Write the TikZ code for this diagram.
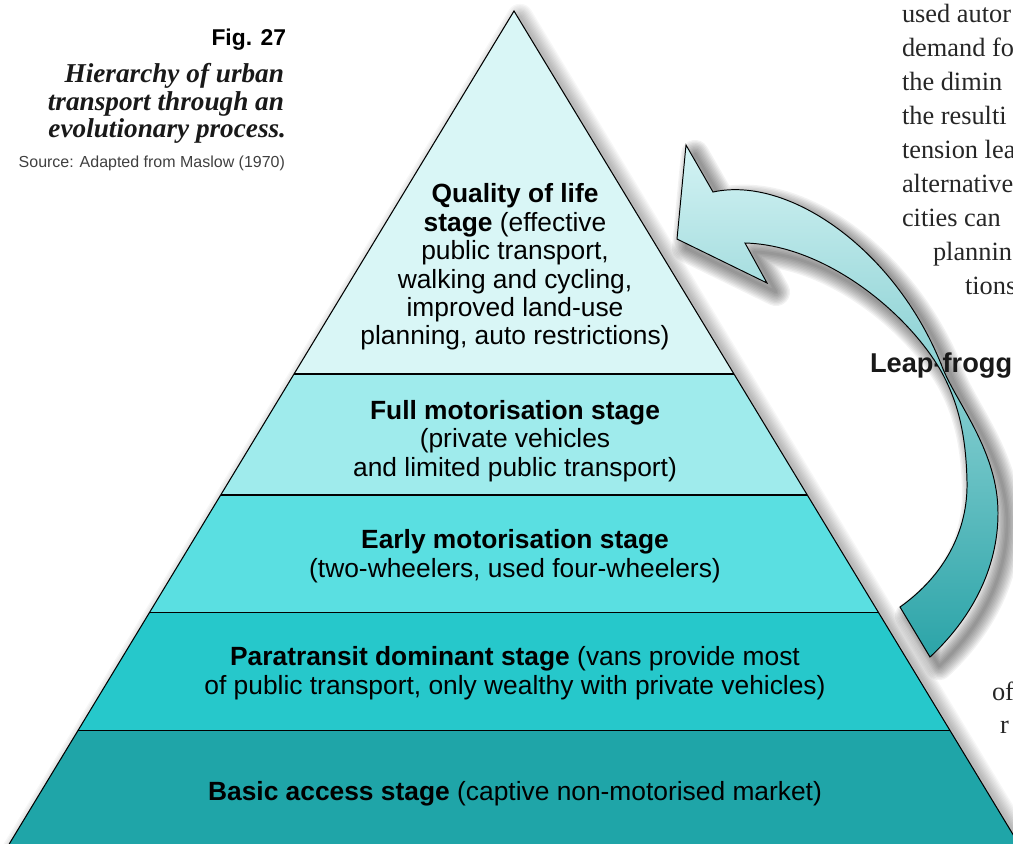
\documentclass[tikz,border=0pt]{standalone}
\usepackage{fontspec}
\setmainfont{Liberation Serif}
\setsansfont{Liberation Sans}
\usetikzlibrary{calc}

\definecolor{tierOne}{HTML}{D9F6F6}
\definecolor{tierTwo}{HTML}{9FEBEC}
\definecolor{tierThree}{HTML}{5ADFE1}
\definecolor{tierFour}{HTML}{26C8CB}
\definecolor{tierFive}{HTML}{1FA5A8}
\definecolor{leapTop}{HTML}{D4F3F4}
\definecolor{leapMid}{HTML}{A3E2E3}
\definecolor{leapBottom}{HTML}{2BA4A8}

\begin{document}
\begin{tikzpicture}[
        % one unit is one pixel of the page, y runs downwards
        x=0.02cm,
        y=-0.02cm,
        every node/.style={inner sep=0pt, outer sep=0pt},
        stageText/.style={font=\sffamily\fontsize{15}{16.2}\selectfont, align=center, text=black},
        bodyText/.style={font=\fontsize{15}{19}\selectfont, anchor=base west, text=black!85},
        captionText/.style={font=\bfseries\itshape\fontsize{15.5}{16}\selectfont, anchor=base east, text=black!90},
        edgeLine/.style={black, line width=0.6pt, line join=miter},
        shadowStroke/.style={black, opacity=0.03, line join=round},
        leapArrow/.style={draw=black, line width=0.55pt, top color=leapTop, middle color=leapMid, bottom color=leapBottom}
    ]
        % Frame of the page
        \useasboundingbox (0,0) rectangle (1013,843);
        \clip (0,0) rectangle (1013,843);

        % Pyramid corners
        \coordinate (apex) at (514,11);
        \coordinate (baseLeft) at (8,846);
        \coordinate (baseRight) at (1020,846);

        % Tier boundaries on both edges
        \foreach \i/\t in {1/0.4347, 2/0.5796, 3/0.7198, 4/0.8611} {
            \coordinate (edgeL\i) at ($(apex)!\t!(baseLeft)$);
            \coordinate (edgeR\i) at ($(apex)!\t!(baseRight)$);
        }

        % Outlines kept as macros for the soft shadows
        \def\pyramidPath{(514,11) -- (1020,846) -- (8,846) -- cycle}
        \def\leapPath{(686,145) -- (713,192)
            .. controls (790,175) and (898,252) .. (943,369)
            .. controls (958,405) and (998,452) .. (998,513)
            .. controls (998,570) and (970,620) .. (930,657)
            -- (900,607)
            .. controls (945,575) and (968,530) .. (967,482)
            .. controls (966,432) and (957,400) .. (941,371)
            .. controls (907,312) and (825,245) .. (745,243)
            -- (767,283) -- (677,239) -- cycle}

        % Soft shadows (stacked light strokes)
        \foreach \w in {1,...,10} {
            \draw[shadowStroke, line width=\w*1.5pt, shift={(6,6)}] \pyramidPath;
            \draw[shadowStroke, opacity=0.05, line width=\w*1.6pt, shift={(9,9)}] \leapPath;
        }

        % Pyramid tiers, top to bottom
        \fill[tierOne] (apex) -- (edgeR1) -- (edgeL1) -- cycle;
        \fill[tierTwo] (edgeL1) -- (edgeR1) -- (edgeR2) -- (edgeL2) -- cycle;
        \fill[tierThree] (edgeL2) -- (edgeR2) -- (edgeR3) -- (edgeL3) -- cycle;
        \fill[tierFour] (edgeL3) -- (edgeR3) -- (edgeR4) -- (edgeL4) -- cycle;
        \fill[tierFive] (edgeL4) -- (edgeR4) -- (baseRight) -- (baseLeft) -- cycle;
        \draw[edgeLine] (apex) -- (baseRight) -- (baseLeft) -- cycle;
        \foreach \i in {1,...,4}
            \draw[edgeLine] (edgeL\i) -- (edgeR\i);

        % Stage labels
        \node[stageText] (qualityText) at (515,267) {\textbf{Quality of life}\\\textbf{stage} (effective\\public transport,\\walking and cycling,\\improved land-use\\planning, auto restrictions)};
        \node[stageText] (fullText) at (515,441) {\textbf{Full motorisation stage}\\(private vehicles\\and limited public transport)};
        \node[stageText] (earlyText) at (515,556) {\textbf{Early motorisation stage}\\(two-wheelers, used four-wheelers)};
        \node[stageText] (paraText) at (515,673) {\textbf{Paratransit dominant stage} (vans provide most\\of public transport, only wealthy with private vehicles)};
        \node[stageText] (basicText) at (515,794) {\textbf{Basic access stage} (captive non-motorised market)};

        % Figure caption
        \node[font=\sffamily\bfseries\fontsize{13}{14}\selectfont, anchor=base east] (figLabel) at (286,45) {Fig. 27};
        \node[captionText] (captionOne) at (284,82) {Hierarchy of urban};
        \node[captionText] (captionTwo) at (284,110) {transport through an};
        \node[captionText] (captionThree) at (286,137) {evolutionary process.};
        \node[font=\sffamily\fontsize{9.1}{10}\selectfont, anchor=base east, text=black!75] (sourceText) at (285,167) {Source: Adapted from Maslow (1970)};

        % Running text of the page, cut by the page edge
        \foreach \txt/\xx/\yy [count=\i] in {used autor/902/22, demand fo/902/56, the dimin/902/90,
                the resulti/902/124, tension lea/902/158, alternative/902/192, cities can/902/226,
                plannin/933/260, tions/965/294, of/992/700, r/1000/733}
            \node[bodyText] (body\i) at (\xx,\yy) {\txt};
        \node[font=\sffamily\bfseries\fontsize{15.5}{16}\selectfont, anchor=base west, text=black!90] (leapText) at (870,372) {Leap-frogg};

        % Leap-frogging arrow
        \path[leapArrow] \leapPath;
\end{tikzpicture}
\end{document}
